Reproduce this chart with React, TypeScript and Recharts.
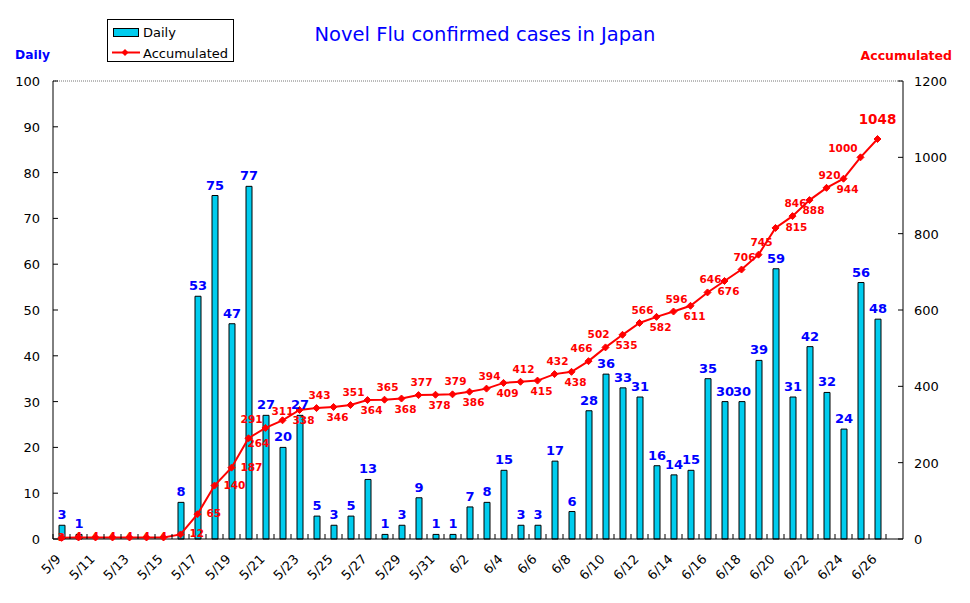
import React from "react";
import {
  Bar,
  ComposedChart,
  LabelList,
  Line,
  ReferenceLine,
  XAxis,
  YAxis,
} from "recharts";

// dates 5/9 .. 6/27 (6/27 has no figures yet)
const dates = [
  "5/9", "5/10", "5/11", "5/12", "5/13", "5/14", "5/15", "5/16", "5/17", "5/18",
  "5/19", "5/20", "5/21", "5/22", "5/23", "5/24", "5/25", "5/26", "5/27", "5/28",
  "5/29", "5/30", "5/31", "6/1", "6/2", "6/3", "6/4", "6/5", "6/6", "6/7",
  "6/8", "6/9", "6/10", "6/11", "6/12", "6/13", "6/14", "6/15", "6/16", "6/17",
  "6/18", "6/19", "6/20", "6/21", "6/22", "6/23", "6/24", "6/25", "6/26", "6/27",
];

const daily = [
  3, 1, 0, 0, 0, 0, 0, 8, 53, 75,
  47, 77, 27, 20, 27, 5, 3, 5, 13, 1,
  3, 9, 1, 1, 7, 8, 15, 3, 3, 17,
  6, 28, 36, 33, 31, 16, 14, 15, 35, 30,
  30, 39, 59, 31, 42, 32, 24, 56, 48, null,
];

const accumulated = [
  3, 4, 4, 4, 4, 4, 4, 12, 65, 140,
  187, 264, 291, 311, 338, 343, 346, 351, 364, 365,
  368, 377, 378, 379, 386, 394, 409, 412, 415, 432,
  438, 466, 502, 535, 566, 582, 596, 611, 646, 676,
  706, 745, 815, 846, 888, 920, 944, 1000, 1048, null,
];

const leftTicks = [0, 10, 20, 30, 40, 50, 60, 70, 80, 90, 100];
const rightTicks = [0, 200, 400, 600, 800, 1000, 1200];

const data = dates.map((date, i) => ({
  date,
  daily: daily[i],
  acc: accumulated[i],
}));

// where the red value label sits relative to its point
const labelSpot: Record<string, string> = {
  "5/9": "c", "5/10": "c", "5/11": "c", "5/12": "c", "5/13": "c", "5/14": "c", "5/15": "c",
  "5/16": "r", "5/17": "r", "5/18": "r", "5/19": "r", "5/20": "rb", "5/21": "al",
  "5/22": "am",
  "5/23": "b", "5/25": "b", "5/27": "b", "5/29": "b", "5/31": "b", "6/2": "b",
  "6/4": "b", "6/6": "b", "6/8": "b", "6/9": "al2", "6/10": "al2", "6/11": "b",
  "6/13": "b", "6/15": "b", "6/17": "b", "6/20": "r2", "6/22": "b", "6/24": "b",
  "6/25": "al", "6/26": "top",
};

const FONT = "'DejaVu Sans', Verdana, sans-serif";
const PLOT_LEFT = 53;
const PLOT_RIGHT = 903;
const PLOT_BOTTOM = 539;
const SLOT = (PLOT_RIGHT - PLOT_LEFT) / dates.length;
const RED = "#FF0000";
const BLUE = "#0000FF";

function LeftTick(props: any) {
  const { y, payload } = props;
  return (
    <g>
      <line x1={PLOT_LEFT} x2={PLOT_LEFT + 5} y1={y} y2={y} stroke="#000" />
      <text x={PLOT_LEFT - 13} y={y + 5} textAnchor="end" fontSize={13} fontFamily={FONT} fill="#000">
        {payload.value}
      </text>
    </g>
  );
}

function RightTick(props: any) {
  const { y, payload } = props;
  return (
    <g>
      <line x1={PLOT_RIGHT - 5} x2={PLOT_RIGHT} y1={y} y2={y} stroke="#000" />
      <text x={PLOT_RIGHT + 11} y={y + 5} textAnchor="start" fontSize={13} fontFamily={FONT} fill="#000">
        {payload.value}
      </text>
    </g>
  );
}

function DateTick(props: any) {
  const { x, payload, index } = props;
  const bx = x - SLOT / 2;
  return (
    <g>
      <line x1={bx} x2={bx} y1={PLOT_BOTTOM} y2={PLOT_BOTTOM - 5} stroke="#000" />
      {index % 2 === 0 && (
        <text
          x={x}
          y={PLOT_BOTTOM + 21}
          textAnchor="end"
          fontSize={13}
          fontFamily={FONT}
          fill="#000"
          transform={`rotate(-45 ${x} ${PLOT_BOTTOM + 21})`}
        >
          {payload.value}
        </text>
      )}
    </g>
  );
}

function DailyLabel(props: any) {
  const { x, y, width, value } = props;
  if (!value) return null;
  return (
    <text
      x={x + width / 2}
      y={y - 6}
      textAnchor="middle"
      fontSize={13}
      fontWeight="bold"
      fontFamily={FONT}
      fill={BLUE}
    >
      {value}
    </text>
  );
}

function AccLabel(props: any) {
  const { x, y, value, index } = props;
  if (value == null) return null;
  const spot = labelSpot[dates[index]] ?? "a";
  let dx = 3;
  let dy = -9;
  let anchor = "middle";
  let size = 10.5;
  if (spot === "c") { dx = 0; dy = 3; }
  if (spot === "r") { dx = 9; dy = 3; anchor = "start"; }
  if (spot === "rb") { dx = -1; dy = 9; anchor = "start"; }
  if (spot === "r2") { dx = 10; dy = 3; anchor = "start"; }
  if (spot === "al") { dx = -3; dy = -5; anchor = "end"; }
  if (spot === "al2") { dx = 4; dy = -9; anchor = "end"; }
  if (spot === "am") { dx = 0; dy = -5; }
  if (spot === "b") { dx = 4; dy = 14; }
  if (spot === "top") { dx = 0; dy = -15; size = 13.5; }
  return (
    <text
      x={x + dx}
      y={y + dy}
      textAnchor={anchor}
      fontSize={size}
      fontWeight="bold"
      fontFamily={FONT}
      fill={RED}
    >
      {value}
    </text>
  );
}

function Diamond(props: any) {
  const { cx, cy } = props;
  if (cx == null || cy == null) return null;
  return (
    <polygon
      points={`${cx},${cy - 3.5} ${cx + 3.5},${cy} ${cx},${cy + 3.5} ${cx - 3.5},${cy}`}
      fill={RED}
      stroke={RED}
    />
  );
}

export default function App() {
  return (
    <div style={{ position: "relative", width: 970, height: 603, background: "#fff" }}>
      <style>{"body{margin:0}"}</style>
      <ComposedChart
        width={970}
        height={603}
        data={data}
        margin={{ top: 81, right: 0, bottom: 0, left: 0 }}
        barCategoryGap={0}
      >
        <XAxis
          dataKey="date"
          height={64}
          interval={0}
          tickLine={false}
          axisLine={{ stroke: "#000" }}
          tick={<DateTick />}
        />
        <YAxis
          yAxisId="left"
          width={53}
          domain={[0, 100]}
          ticks={leftTicks}
          tickLine={false}
          axisLine={{ stroke: "#000" }}
          tick={<LeftTick />}
        />
        <YAxis
          yAxisId="right"
          orientation="right"
          width={67}
          domain={[0, 1200]}
          ticks={rightTicks}
          tickLine={false}
          axisLine={{ stroke: "#000" }}
          tick={<RightTick />}
        />
        <ReferenceLine yAxisId="left" y={100} stroke="#777" strokeDasharray="1 1" />
        <Bar
          yAxisId="left"
          dataKey="daily"
          barSize={6}
          fill="#00CCEE"
          stroke="#000"
          strokeWidth={1}
          isAnimationActive={false}
        >
          <LabelList dataKey="daily" content={DailyLabel} />
        </Bar>
        <Line
          yAxisId="right"
          dataKey="acc"
          type="linear"
          stroke={RED}
          strokeWidth={2}
          dot={<Diamond />}
          activeDot={false}
          isAnimationActive={false}
        >
          <LabelList dataKey="acc" content={AccLabel} />
        </Line>
      </ComposedChart>
      <svg
        width={970}
        height={603}
        style={{ position: "absolute", left: 0, top: 0, pointerEvents: "none" }}
      >
        <text x={485} y={41} textAnchor="middle" fontSize={19.5} fontFamily={FONT} fill={BLUE}>
          Novel Flu confirmed cases in Japan
        </text>
        <text x={15} y={59} fontSize={12.3} fontWeight="bold" fontFamily={FONT} fill={BLUE}>
          Daily
        </text>
        <text x={952} y={60} textAnchor="end" fontSize={12.5} fontWeight="bold" fontFamily={FONT} fill={RED}>
          Accumulated
        </text>
        <rect x={107.5} y={19.5} width={126} height={42} fill="#fff" stroke="#000" />
        <rect x={113.5} y={28.5} width={25} height={8} fill="#00CCEE" stroke="#000" />
        <text x={143} y={37} fontSize={13} fontFamily={FONT} fill="#000">
          Daily
        </text>
        <line x1={112} x2={140} y1={52.5} y2={52.5} stroke={RED} strokeWidth={2} />
        <polygon points="125,49 128.5,52.5 125,56 121.5,52.5" fill={RED} />
        <text x={143} y={58} fontSize={13} fontFamily={FONT} fill="#000">
          Accumulated
        </text>
      </svg>
    </div>
  );
}
